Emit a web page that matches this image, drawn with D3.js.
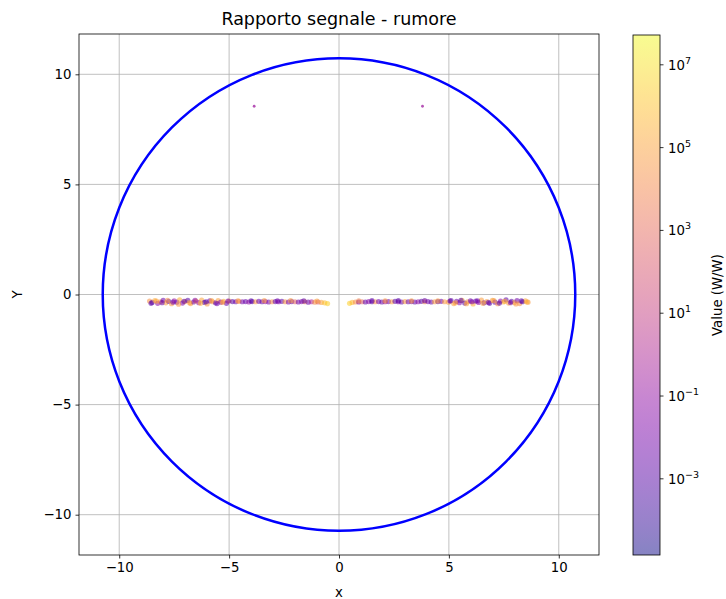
<!DOCTYPE html>
<html>
<head>
<meta charset="UTF-8" />
<title>Rapporto segnale - rumore</title>
<script src="https://d3js.org/d3.v7.min.js"></script>
<style>
  body { margin: 0; background: white; }
  text { font-family: "DejaVu Sans", sans-serif; fill: #000; }
  .grid line { stroke: #b0b0b0; stroke-width: 0.8; }
</style>
</head>
<body>
<svg width="726" height="599"></svg>
<script>
// axis ticks
var xTicks = [-10, -5, 0, 5, 10];
var yTicks = [-10, -5, 0, 5, 10];
var cbTicks = [-3, -1, 1, 3, 5, 7];   // exponents of 10

// boundary circle
var circleCenter = [0, 0];
var circleRadius = 10.75;

// band, left side
var leftX = [-8.62,-8.5,-8.38,-8.25,-8.12,-8.0,-7.88,-7.75,-7.62,-7.5,-7.38,-7.25,-7.12,-7.0,-6.88,-6.75,-6.62,-6.5,-6.38,-6.25,-6.12,-6.0,-5.88,-5.75,-5.62,-5.5,-5.38,-5.25,-5.12,-5.0,
  -4.85,-4.7,-4.55,-4.4,-4.25,-4.1,-3.95,-3.8,-3.65,-3.5,-3.35,-3.2,-3.05,-2.9,-2.75,-2.6,-2.45,-2.3,-2.15,-2.0,-1.85,-1.7,-1.55,-1.4,-1.25,-1.1,-0.95,-0.8,-0.65,-0.52,
  -8.55,-8.3,-8.05,-7.8,-7.55,-7.3,-7.05,-6.8,-6.55,-6.3,-6.05,-5.8,-5.55,-5.3,-5.05,
  -4.6,-4.0,-3.4,-2.8,-2.2,-1.6,-1.0];
var leftY = [-0.30,-0.36,-0.28,-0.40,-0.33,-0.26,-0.38,-0.31,-0.42,-0.29,-0.35,-0.24,-0.39,-0.32,-0.27,-0.41,-0.34,-0.30,-0.37,-0.25,-0.36,-0.43,-0.29,-0.33,-0.38,-0.28,-0.35,-0.31,-0.40,-0.30,
  -0.32,-0.33,-0.31,-0.33,-0.32,-0.34,-0.32,-0.33,-0.31,-0.33,-0.32,-0.34,-0.33,-0.32,-0.33,-0.31,-0.33,-0.34,-0.32,-0.33,-0.34,-0.32,-0.33,-0.35,-0.33,-0.35,-0.34,-0.36,-0.38,-0.41,
  -0.40,-0.30,-0.37,-0.27,-0.35,-0.44,-0.31,-0.37,-0.26,-0.40,-0.33,-0.28,-0.41,-0.36,-0.30,
  -0.29,-0.29,-0.28,-0.29,-0.28,-0.29,-0.30];
var leftV = [3e4,2e-3,2e5,5e-2,1e4,4e-3,8e4,1e-3,5e4,3e-1,5e-3,3e5,2e-2,4e4,1e-3,1e5,6e-3,2e4,9e-2,1e5,1e-3,4e4,7e-3,6e4,2e-3,8e4,3e-2,2e5,4e-3,2e4,
  1e-3,5e-3,2e4,1e-2,3e-3,8e-2,1e-3,6e4,4e-3,2e-3,1e-1,7e-3,3e4,2e-3,5e-2,1e-3,4e4,9e-3,2e-3,1e3,5e-3,2e-2,8e3,3e-3,6e-1,2e4,1e2,1e5,8e5,3e6,
  1e-3,1e5,3e-3,2e4,8e-3,6e4,2e-3,7e4,4e-2,3e5,1e-3,9e4,6e-3,4e4,1e-2,
  3e4,1e-3,5e4,4e-3,5e4,2e-3,8e4];

// band, right side
var rightX = [0.48,0.6,0.75,0.9,1.05,1.2,1.35,1.5,1.65,1.8,1.95,2.1,2.25,2.4,2.55,2.7,2.85,3.0,3.15,3.3,3.45,3.6,3.75,3.9,4.05,4.2,4.35,4.5,4.65,4.8,
  4.98,5.1,5.22,5.35,5.48,5.6,5.72,5.85,5.98,6.1,6.22,6.35,6.48,6.6,6.72,6.85,6.98,7.1,7.22,7.35,7.48,7.6,7.72,7.85,7.98,8.1,8.22,8.35,8.48,8.6,
  5.05,5.3,5.55,5.8,6.05,6.3,6.55,6.8,7.05,7.3,7.55,7.8,8.05,8.3,8.55,
  0.9,1.5,2.1,2.7,3.3,3.9,4.5];
var rightY = [-0.40,-0.36,-0.34,-0.34,-0.33,-0.34,-0.32,-0.33,-0.33,-0.32,-0.34,-0.33,-0.32,-0.33,-0.31,-0.33,-0.34,-0.32,-0.33,-0.32,-0.34,-0.33,-0.31,-0.33,-0.32,-0.34,-0.33,-0.32,-0.31,-0.33,
  -0.35,-0.28,-0.41,-0.31,-0.37,-0.26,-0.39,-0.33,-0.29,-0.43,-0.30,-0.36,-0.25,-0.38,-0.32,-0.40,-0.27,-0.35,-0.42,-0.30,-0.34,-0.24,-0.39,-0.31,-0.36,-0.28,-0.41,-0.33,-0.29,-0.35,
  -0.30,-0.38,-0.27,-0.42,-0.33,-0.29,-0.40,-0.36,-0.28,-0.39,-0.31,-0.37,-0.43,-0.29,-0.34,
  -0.29,-0.28,-0.29,-0.28,-0.29,-0.28,-0.29];
var rightV = [3e6,6e5,2e4,6e-3,1e3,2e-3,4e-2,1e-3,3e4,7e-3,2e-3,1e-1,5e-3,6e4,1e-3,3e-2,2e-3,8e4,4e-3,1e-2,2e-3,5e-2,1e-3,3e4,6e-3,2e-3,9e4,1e-3,4e-3,5e4,
  5e4,2e-3,1e5,7e-3,3e-2,2e5,1e-3,2e4,5e-3,3e5,3e-3,1e-1,6e4,2e-3,9e4,1e-3,1e5,4e-3,2e4,6e-2,3e5,2e-3,5e4,1e-3,1e5,8e-3,2e4,1e-3,8e4,5e4,
  2e-3,6e4,1e-3,1e5,2e-2,5e-3,8e4,3e-3,7e4,1e-3,2e5,5e-3,4e4,1e-3,3e5,
  1e4,2e-3,4e4,1e-3,6e4,3e-3,5e4];

// two isolated points near the top
var topX = [-3.86, 3.8];
var topY = [8.55, 8.55];
var topV = [0.3, 0.3];

var vMin = Math.pow(10, -4.84), vMax = Math.pow(10, 7.72);

var svg = d3.select("svg");
var plot = { left: 79, right: 599, top: 34, bottom: 555 };
var lim = 11.83;

var x = d3.scaleLinear().domain([-lim, lim]).range([plot.left, plot.right]);
var y = d3.scaleLinear().domain([-lim, lim]).range([plot.bottom, plot.top]);
var cnorm = d3.scaleLog().domain([vMin, vMax]).range([0, 1]).clamp(true);
var colorOf = v => d3.interpolatePlasma(cnorm(v));

svg.append("defs").append("clipPath").attr("id", "clip")
  .append("rect").attr("x", plot.left).attr("y", plot.top)
  .attr("width", plot.right - plot.left).attr("height", plot.bottom - plot.top);

// grid
var grid = svg.append("g").attr("class", "grid");
grid.selectAll(".gx").data(xTicks).enter().append("line")
  .attr("x1", d => x(d)).attr("x2", d => x(d))
  .attr("y1", plot.top).attr("y2", plot.bottom);
grid.selectAll(".gy").data(yTicks).enter().append("line")
  .attr("y1", d => y(d)).attr("y2", d => y(d))
  .attr("x1", plot.left).attr("x2", plot.right);

var g = svg.append("g").attr("clip-path", "url(#clip)");

// circle
g.append("circle")
  .attr("cx", x(circleCenter[0])).attr("cy", y(circleCenter[1]))
  .attr("r", x(circleRadius) - x(0))
  .attr("fill", "none").attr("stroke", "#0000ff").attr("stroke-width", 2.5);

function pts(xs, ys, vs) { return xs.map((d, i) => ({ x: d, y: ys[i], v: vs[i] })); }
var band = pts(leftX, leftY, leftV).concat(pts(rightX, rightY, rightV));
var tops = pts(topX, topY, topV);

g.selectAll(".band").data(band).enter().append("circle")
  .attr("cx", d => x(d.x)).attr("cy", d => y(d.y)).attr("r", 2.6)
  .attr("fill", d => colorOf(d.v)).attr("fill-opacity", 0.55);
g.selectAll(".top").data(tops).enter().append("circle")
  .attr("cx", d => x(d.x)).attr("cy", d => y(d.y)).attr("r", 1.4)
  .attr("fill", d => colorOf(d.v)).attr("fill-opacity", 0.75);

// axes
var xAxis = svg.append("g").attr("transform", "translate(0," + plot.bottom + ")")
  .call(d3.axisBottom(x).tickValues(xTicks).tickSize(3.5).tickPadding(4)
    .tickFormat(d => d < 0 ? "\u2212" + Math.abs(d) : d));
var yAxis = svg.append("g").attr("transform", "translate(" + plot.left + ",0)")
  .call(d3.axisLeft(y).tickValues(yTicks).tickSize(3.5).tickPadding(4)
    .tickFormat(d => d < 0 ? "\u2212" + Math.abs(d) : d));
[xAxis, yAxis].forEach(a => {
  a.select(".domain").remove();
  a.selectAll("text").attr("font-size", 13.3).attr("font-family", "DejaVu Sans");
  a.selectAll("line").attr("stroke", "#000").attr("stroke-width", 0.8);
});

svg.append("rect").attr("x", plot.left).attr("y", plot.top)
  .attr("width", plot.right - plot.left).attr("height", plot.bottom - plot.top)
  .attr("fill", "none").attr("stroke", "#000").attr("stroke-width", 0.8);

svg.append("text").attr("x", (plot.left + plot.right) / 2).attr("y", 25)
  .attr("text-anchor", "middle").attr("font-size", 17.5).text("Rapporto segnale - rumore");
svg.append("text").attr("x", (plot.left + plot.right) / 2).attr("y", 597)
  .attr("text-anchor", "middle").attr("font-size", 13.3).text("x");
svg.append("text").attr("transform", "translate(22," + (plot.top + plot.bottom) / 2 + ") rotate(-90)")
  .attr("text-anchor", "middle").attr("font-size", 13.3).text("Y");

// colorbar
var cb = { left: 633, right: 660, top: 35, bottom: 555 };
var cy = d3.scaleLinear().domain([Math.log10(vMin), Math.log10(vMax)]).range([cb.bottom, cb.top]);
var grad = svg.select("defs").append("linearGradient").attr("id", "cbgrad")
  .attr("x1", 0).attr("y1", 1).attr("x2", 0).attr("y2", 0);
d3.range(0, 1.0001, 0.05).forEach(t => {
  grad.append("stop").attr("offset", t).attr("stop-color", d3.interpolatePlasma(t)).attr("stop-opacity", 0.5);
});
svg.append("rect").attr("x", cb.left).attr("y", cb.top)
  .attr("width", cb.right - cb.left).attr("height", cb.bottom - cb.top)
  .attr("fill", "url(#cbgrad)").attr("stroke", "#000").attr("stroke-width", 0.8);

var ct = svg.append("g").selectAll("g").data(cbTicks).enter().append("g")
  .attr("transform", d => "translate(" + cb.right + "," + cy(d) + ")");
ct.append("line").attr("x2", 3.5).attr("stroke", "#000").attr("stroke-width", 0.8);
var lab = ct.append("text").attr("x", 8).attr("y", 5).attr("font-size", 13.3);
lab.append("tspan").text("10");
lab.append("tspan").attr("dy", -6).attr("font-size", 9.5)
  .text(d => d < 0 ? "\u2212" + Math.abs(d) : d);

svg.append("text").attr("transform", "translate(722," + (cb.top + cb.bottom) / 2 + ") rotate(-90)")
  .attr("text-anchor", "middle").attr("font-size", 13.3).text("Value (W/W)");
</script>
</body>
</html>
